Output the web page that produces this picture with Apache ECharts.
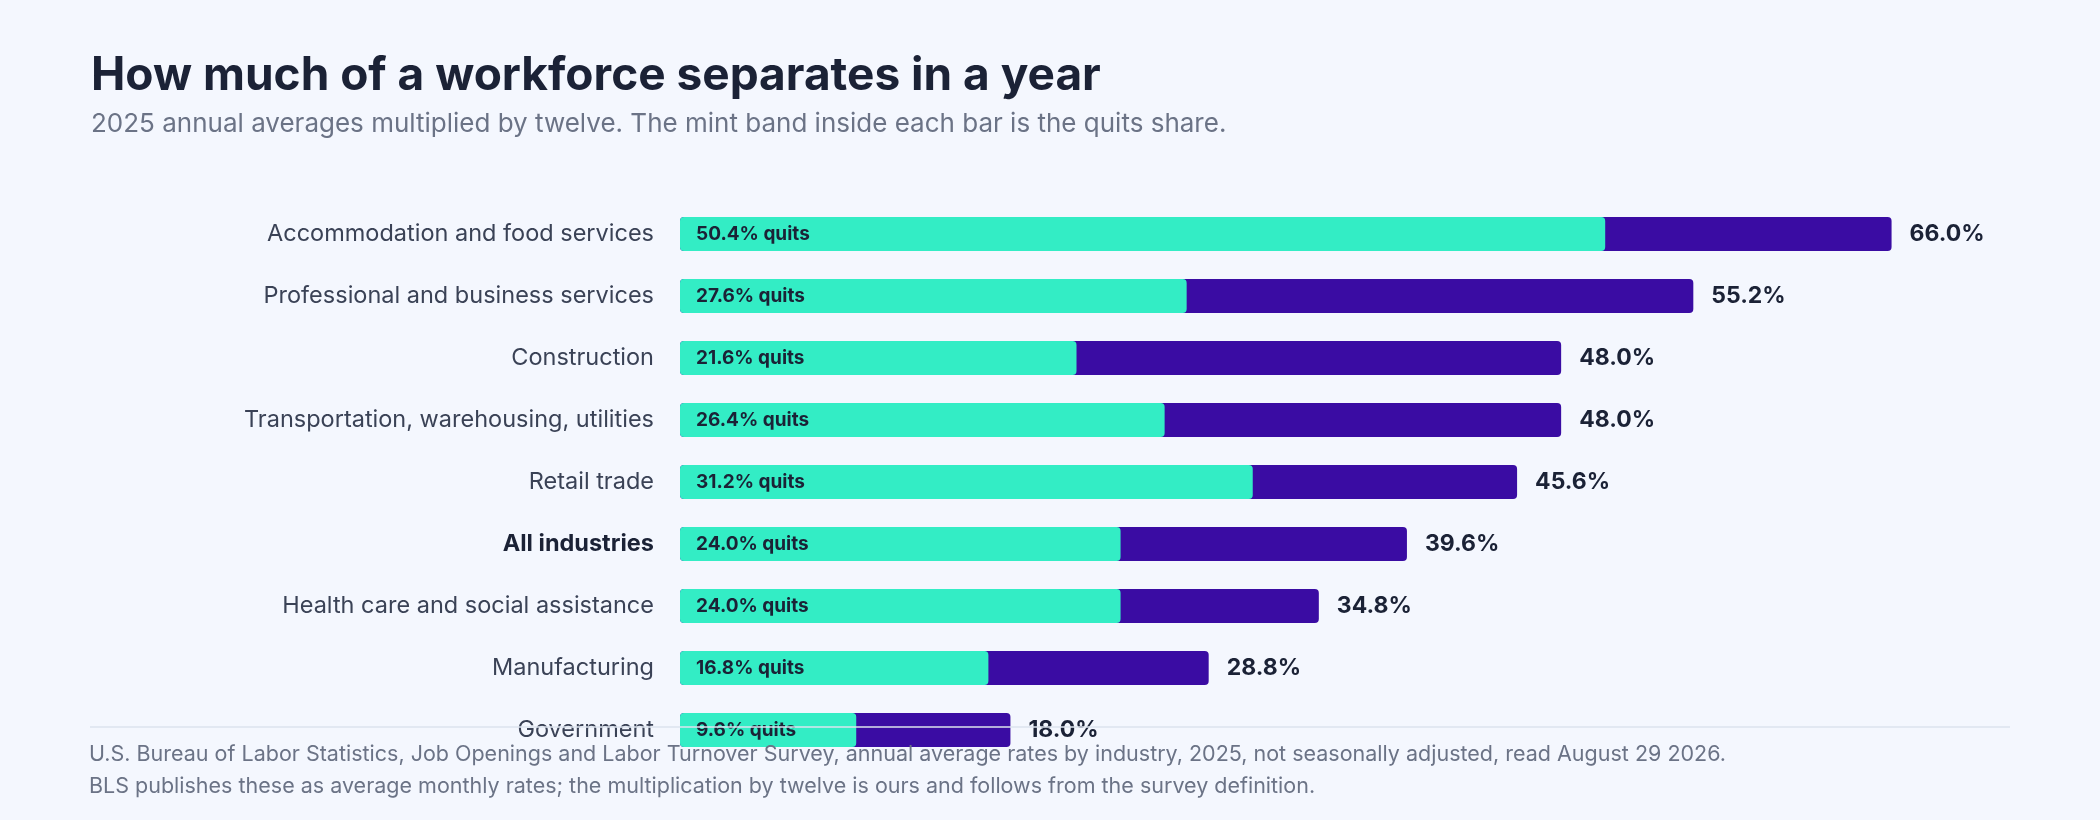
<!DOCTYPE html>
<html><head><meta charset="utf-8">
<script src="https://cdn.jsdelivr.net/npm/echarts@6/dist/echarts.min.js"></script>
<style>html,body{margin:0;padding:0;background:#f4f7fe}#c{width:2100px;height:820px}</style>
</head><body><div id="c"></div>
<script>
const categories = ["Accommodation and food services","Professional and business services","Construction","Transportation, warehousing, utilities","Retail trade","All industries","Health care and social assistance","Manufacturing","Government"];
const totalRates = [66.0,55.2,48.0,48.0,45.6,39.6,34.8,28.8,18.0];
const quitsRates = [50.4,27.6,21.6,26.4,31.2,24.0,24.0,16.8,9.6];
const font = "Inter, 'Noto Sans', sans-serif";
const chart = echarts.init(document.getElementById('c'));
chart.setOption({
  backgroundColor:'#f4f7fe',
  animation:false,
  textStyle:{fontFamily:font},
  title:{left:86,top:48,text:'How much of a workforce separates in a year',
    subtext:'2025 annual averages multiplied by twelve. The mint band inside each bar is the quits share.',
    itemGap:12,
    textStyle:{fontFamily:font,fontSize:46,fontWeight:700,color:'#1b2236'},
    subtextStyle:{fontFamily:font,fontSize:26,color:'#6b7386'}},
  grid:{left:680,width:1285,top:203,bottom:59},
  xAxis:{type:'value',min:0,max:70,show:false},
  yAxis:{type:'category',data:categories,inverse:true,axisLine:{show:false},axisTick:{show:false},
    axisLabel:{margin:26,fontSize:23.5,color:'#3a4256',fontFamily:font,
      formatter:v=>v==='All industries'?'{b|'+v+'}':v,
      rich:{b:{fontSize:23.5,fontWeight:700,color:'#1b2236',fontFamily:font}}}},
  series:[
    {type:'bar',data:totalRates,barWidth:34,itemStyle:{color:'#3a0ca3',borderRadius:4},
     label:{show:true,position:'right',distance:18,formatter:p=>p.value.toFixed(1)+'%',fontSize:23,fontWeight:700,color:'#1b2236',fontFamily:font}},
    {type:'bar',data:quitsRates,barWidth:34,barGap:'-100%',itemStyle:{color:'#33edc5',borderRadius:4},
     label:{show:true,position:'insideLeft',distance:16,formatter:p=>p.value.toFixed(1)+'% quits',fontSize:19,fontWeight:700,color:'#1b2236',fontFamily:font}}
  ],
  graphic:[
    {type:'line',z:100,shape:{x1:90,y1:727,x2:2010,y2:727},style:{stroke:'#dde3ee',lineWidth:1.5}},
    {type:'text',z:100,left:89,top:744,style:{text:'U.S. Bureau of Labor Statistics, Job Openings and Labor Turnover Survey, annual average rates by industry, 2025, not seasonally adjusted, read August 29 2026.',fontSize:21.5,fill:'#6b7386',fontFamily:font}},
    {type:'text',z:100,left:89,top:776,style:{text:'BLS publishes these as average monthly rates; the multiplication by twelve is ours and follows from the survey definition.',fontSize:21.5,fill:'#6b7386',fontFamily:font}}
  ]
});
</script></body></html>
